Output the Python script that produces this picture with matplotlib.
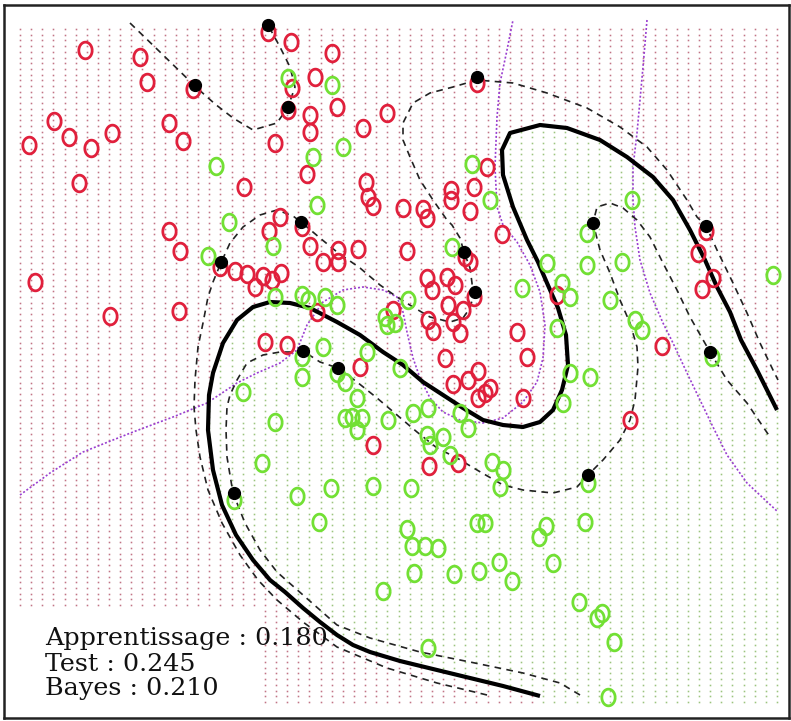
import numpy as np
import matplotlib
matplotlib.use("Agg")
import matplotlib.pyplot as plt
from matplotlib.path import Path

# ---------------- data (image coordinates, y downward) ----------------
red_x = [85, 140, 147, 193, 54, 169, 69, 112, 29, 91, 183, 79,
         244, 169, 180, 269, 220, 235, 247, 263, 272, 281, 255,
         35, 110, 179, 265, 287,
         268, 291, 332, 315, 292, 288, 337, 310, 310, 363, 387, 275, 307, 280, 302,
         366, 368, 373, 403, 423, 427, 451, 451, 474, 470, 487, 477, 502,
         310, 338, 358, 407, 465, 470, 323, 338, 427, 432, 447, 455, 474,
         317, 393, 448, 463, 428, 433, 453, 460, 517, 360, 445, 527, 478, 468,
         453, 490, 485, 478, 523, 373, 429, 458,
         557, 662, 630, 706, 698, 713, 702]
red_y = [50, 57, 82, 89, 121, 123, 137, 133, 145, 148, 141, 183,
         187, 231, 251, 231, 267, 271, 274, 276, 280, 273, 287,
         282, 316, 311, 342, 345,
         32, 42, 53, 77, 88, 110, 107, 115, 132, 128, 113, 143, 174, 217, 227,
         182, 197, 206, 208, 209, 218, 190, 200, 187, 211, 167, 83, 234,
         246, 250, 249, 251, 257, 262, 262, 262, 278, 290, 277, 285, 297,
         312, 310, 305, 310, 320, 331, 322, 333, 332, 367, 358, 357, 371, 380,
         384, 388, 393, 398, 398, 445, 466, 463,
         295, 346, 420, 231, 253, 278, 289]

green_x = [216, 229, 273, 208, 275, 243,
           288, 332, 343, 313, 317, 472, 490, 632, 587,
           452, 547, 522, 302, 308, 325, 337, 385, 387, 395, 408, 557, 323, 302, 302,
           367, 337, 400, 345, 357, 275, 345, 352, 362, 357, 388, 413, 428, 460, 468,
           427, 430, 443, 450, 492, 503, 500,
           587, 622, 562, 570, 610, 635, 642, 570, 590, 563, 712, 773,
           262, 234,
           297, 331, 373, 411, 319, 407, 477, 485, 546, 539, 412, 425, 438, 414, 454,
           479, 499, 512, 553, 383, 428,
           588, 585, 579, 597, 602, 614, 608]
green_y = [166, 222, 246, 256, 297, 392,
           78, 85, 147, 157, 205, 164, 200, 200, 233,
           247, 263, 288, 295, 300, 297, 305, 317, 325, 323, 300, 328, 347, 377, 357,
           352, 373, 368, 382, 398, 422, 418, 417, 418, 430, 420, 413, 408, 413, 428,
           435, 445, 437, 455, 462, 470, 487,
           265, 262, 283, 297, 300, 320, 330, 373, 377, 403, 357, 275,
           463, 500,
           496, 488, 486, 488, 522, 529, 523, 523, 526, 537, 546, 546, 548, 573, 574,
           571, 562, 581, 563, 591, 648,
           483, 522, 602, 618, 613, 642, 697]

sv_x = [268, 195, 288, 477, 301, 221, 464, 475, 593, 706, 710, 303, 338, 588, 234]
sv_y = [25, 85, 107, 77, 222, 262, 252, 292, 223, 226, 352, 351, 368, 475, 493]

# decision boundary (thick solid)
db_x = [540, 503, 470, 437, 400, 370, 353, 337, 320, 303, 285, 270, 253, 236, 222, 213,
        208, 209, 213, 223, 237, 253, 270, 290, 310, 337, 360, 383, 403, 423, 443, 463,
        483, 503, 523, 540, 553, 562, 568, 566, 558, 547, 538, 527, 513, 503, 502, 510,
        540, 567, 600, 627, 653, 673, 690, 705, 717, 730, 741, 757, 777]
db_y = [696, 686, 678, 670, 661, 652, 645, 635, 622, 608, 592, 580, 560, 535, 505, 470,
        430, 395, 373, 343, 320, 307, 302, 303, 308, 322, 335, 352, 365, 382, 395, 408,
        420, 425, 427, 422, 410, 390, 365, 335, 308, 283, 262, 240, 207, 175, 150, 133,
        125, 128, 140, 157, 177, 200, 230, 260, 287, 312, 340, 370, 410]

# outer margin (red side)
m1_x = [487, 437, 387, 337, 303, 277, 258, 240, 222, 208, 200, 196, 194, 195, 198,
        203, 208, 213, 220, 230, 243, 260, 277, 293, 301, 320, 337, 360, 380, 397, 413,
        430, 450, 463, 470, 473, 472, 470, 464, 460, 452, 447, 433, 420, 410, 403, 403,
        413, 430, 453, 477, 513, 547, 587, 620, 647, 667, 687, 697, 706, 717, 733, 747,
        760, 773, 778]
m1_y = [695, 683, 668, 647, 622, 600, 580, 555, 523, 490, 457, 430, 407, 380, 347,
        323, 297, 282, 265, 243, 227, 215, 210, 216, 222, 238, 252, 268, 285, 297, 307,
        317, 322, 318, 308, 297, 283, 268, 252, 238, 225, 220, 200, 180, 157, 140, 123,
        103, 93, 87, 80, 83, 93, 108, 127, 147, 170, 200, 217, 226, 250, 283, 313,
        343, 370, 380]

# inner margin (green side)
m2_x = [580, 560, 523, 470, 420, 370, 337, 303, 277, 260, 245, 233, 227, 226, 227,
        230, 237, 247, 263, 280, 297, 303, 320, 338, 357, 377, 397, 417, 437, 457, 477,
        503, 523, 553, 577, 588, 603, 620, 630, 635, 638, 637, 630, 620, 610, 600, 593,
        597, 610, 623, 637, 650, 663, 677, 690, 710, 727, 747, 770]
m2_y = [695, 683, 673, 662, 652, 638, 625, 595, 572, 550, 523, 493, 457, 430, 407,
        395, 380, 363, 355, 352, 352, 351, 362, 368, 382, 398, 415, 432, 448, 458, 470,
        485, 490, 493, 487, 475, 460, 440, 420, 400, 367, 347, 323, 300, 273, 250, 223,
        207, 203, 208, 220, 237, 263, 290, 317, 352, 380, 403, 437]

# isolated margin piece at the top
m3_x = [130, 160, 197, 215, 233, 253, 277, 288, 295, 290, 280, 268]
m3_y = [23, 52, 88, 104, 118, 130, 123, 107, 87, 67, 47, 25]

# Bayes boundary (purple dotted)
b1_x = [20, 50, 83, 133, 173, 207, 237, 257, 280, 297, 307, 323, 343, 363, 383, 397,
        403, 407, 413, 420, 430, 443, 460, 483, 503, 523, 537, 543, 545, 540, 530, 517,
        503, 497, 495, 497, 500, 507, 513]
b1_y = [495, 473, 452, 432, 417, 403, 383, 373, 363, 350, 325, 302, 290, 287, 290, 297,
        312, 332, 358, 378, 398, 412, 420, 423, 418, 402, 382, 358, 325, 292, 265, 242,
        225, 207, 167, 117, 83, 50, 20]
b2_x = [647, 643, 640, 637, 633, 633, 635, 640, 650, 663, 673, 687, 700, 713, 727, 747, 778]
b2_y = [20, 67, 100, 133, 167, 200, 227, 260, 293, 323, 343, 373, 400, 427, 455, 483, 512]

labels = ["Apprentissage : 0.180", "Test : 0.245", "Bayes : 0.210"]

# ---------------- figure ----------------
W, H = 791, 721
fig = plt.figure(figsize=(W / 100, H / 100), dpi=100)
fig.patch.set_facecolor("white")
L, R_, T, B = 4, 789, 5, 718
ax = fig.add_axes([L / W, (H - B) / H, (R_ - L) / W, (B - T) / H])
ax.set_xlim(L, R_)
ax.set_ylim(B, T)
ax.set_xticks([])
ax.set_yticks([])
for s in ax.spines.values():
    s.set_linewidth(1.8)
    s.set_color("#222222")

# background grid of classified dots
gx = np.linspace(20, 777, 69)
gy = np.linspace(29, 702, 119)
GX, GY = np.meshgrid(gx, gy)
pts = np.column_stack([GX.ravel(), GY.ravel()])
poly = list(zip(db_x, db_y)) + [(795, 405), (795, 720), (db_x[0], 720)]
inside = Path(poly).contains_points(pts)
keep = ~((pts[:, 0] < 258) & (pts[:, 1] > 607))
ax.plot(pts[keep & ~inside, 0], pts[keep & ~inside, 1], ls="none", marker="s",
        ms=1.15, mew=0, color="#c27486", zorder=1)
ax.plot(pts[keep & inside, 0], pts[keep & inside, 1], ls="none", marker="s",
        ms=1.15, mew=0, color="#9cc47e", zorder=1)

# lines
dot = (0, (1.2, 1.2))
ax.plot(b1_x, b1_y, color="#9a3fd0", lw=1.2, ls=dot, zorder=2)
ax.plot(b2_x, b2_y, color="#9a3fd0", lw=1.2, ls=dot, zorder=2)
for mx, my in [(m1_x, m1_y), (m2_x, m2_y), (m3_x, m3_y)]:
    ax.plot(mx, my, color="#222222", lw=1.2, dashes=(4, 3.2), zorder=3)
ax.plot(db_x, db_y, color="black", lw=3.0, solid_capstyle="butt", zorder=4)

# "O" markers
t = np.linspace(0, 2 * np.pi, 60)
ell = Path(np.column_stack([0.8 * np.cos(t), np.sin(t)]))
ax.plot(red_x, red_y, ls="none", marker=ell, ms=12, mfc="none", mec="#e0203c",
        mew=2.0, zorder=5)
ax.plot(green_x, green_y, ls="none", marker=ell, ms=12, mfc="none", mec="#72e034",
        mew=2.0, zorder=5)
ax.plot(sv_x, sv_y, ls="none", marker="o", ms=8.5, color="black", zorder=6)

# error rate text
for i, txt in enumerate(labels):
    ax.text(45, [645, 671, 695][i], txt, family="DejaVu Serif", fontsize=18.3,
            va="baseline", ha="left", color="#111111", zorder=7)

fig.savefig("out.png", dpi=100, facecolor="white")
